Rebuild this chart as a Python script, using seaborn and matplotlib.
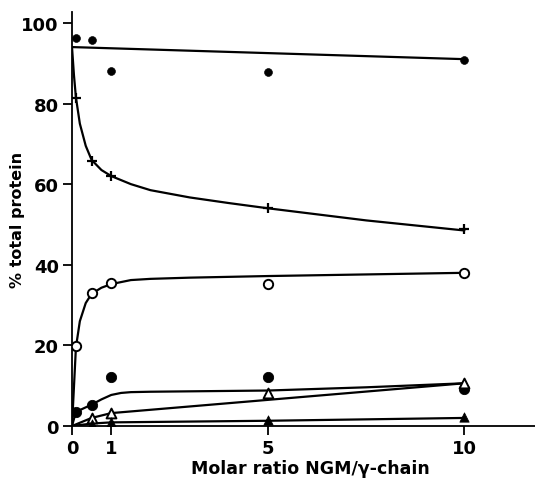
import matplotlib
matplotlib.use("Agg")
import matplotlib.pyplot as plt
import seaborn as sns
import numpy as np

# ---- measured points ----
x_pts = [0.1, 0.5, 1, 5, 10]
top_dots = [96.3, 95.8, 88.1, 87.8, 90.8]
plus_pts = [81.4, 65.8, 62.0, 54.1, 48.9]
open_circ = [19.8, 33.0, 35.5, 35.3, 38.0]
filled_circ = [3.5, 5.2, 12.2, 12.1, 9.2]
x_tri = [0.5, 1, 5, 10]
open_tri = [2.0, 3.2, 8.2, 10.7]
filled_tri = [0.6, 1.0, 1.5, 2.2]

# ---- hand-drawn curves ----
top_line_x = [0, 10]
top_line_y = [94, 91]
plus_curve_x = [0, 0.05, 0.1, 0.2, 0.35, 0.5, 0.75, 1, 1.5, 2, 3, 4, 5, 7.5, 10]
plus_curve_y = [94, 87, 81.5, 75, 69.5, 66, 63.5, 62, 60, 58.5, 56.7, 55.3, 54, 51, 48.5]
oc_curve_x = [0, 0.1, 0.2, 0.35, 0.5, 0.75, 1, 1.5, 2, 3, 5, 7.5, 10]
oc_curve_y = [0, 19.5, 26, 30.5, 32.8, 34.3, 35.2, 36.2, 36.5, 36.8, 37.2, 37.6, 38]
fc_curve_x = [0, 0.1, 0.3, 0.5, 0.75, 1, 1.25, 1.5, 2, 3, 5, 7.5, 10]
fc_curve_y = [0, 3.5, 4.4, 5.3, 6.6, 7.7, 8.2, 8.4, 8.5, 8.6, 8.8, 9.6, 10.6]
ot_line_x = [0, 0.5, 1, 10]
ot_line_y = [0, 2.0, 3.2, 10.6]
ft_line_x = [0, 0.5, 1, 5, 10]
ft_line_y = [0, 0.6, 0.9, 1.3, 2.0]

x_ticks = [0, 1, 5, 10]
y_ticks = [0, 20, 40, 60, 80, 100]

sns.set_style("ticks")
plt.rcParams['font.family'] = ['DejaVu Sans']
plt.rcParams['font.weight'] = 'bold'
plt.rcParams['text.color'] = 'black'
plt.rcParams['axes.labelcolor'] = 'black'
plt.rcParams['xtick.color'] = 'black'
plt.rcParams['ytick.color'] = 'black'

fig = plt.figure(figsize=(5.35, 4.81), dpi=100)
ax = fig.add_axes([72/535, 1-427/481, 1-72/535, (427-13)/481])

lw = 1.6
for cx, cy in [(top_line_x, top_line_y), (plus_curve_x, plus_curve_y),
               (oc_curve_x, oc_curve_y), (fc_curve_x, fc_curve_y),
               (ot_line_x, ot_line_y), (ft_line_x, ft_line_y)]:
    sns.lineplot(x=cx, y=cy, ax=ax, color='black', linewidth=lw,
                 sort=False, estimator=None)

sns.scatterplot(x=x_pts, y=top_dots, ax=ax, marker='o', s=32,
                color='black', edgecolor='black', zorder=5)
sns.scatterplot(x=x_pts, y=plus_pts, ax=ax, marker='+', s=50,
                color='black', linewidth=1.6, zorder=5)
sns.scatterplot(x=x_pts, y=open_circ, ax=ax, marker='o', s=45,
                facecolor='white', edgecolor='black', linewidth=1.4, zorder=5)
sns.scatterplot(x=x_pts, y=filled_circ, ax=ax, marker='o', s=55,
                color='black', edgecolor='black', zorder=5)
sns.scatterplot(x=x_tri, y=open_tri, ax=ax, marker='^', s=50,
                facecolor='white', edgecolor='black', linewidth=1.4, zorder=6)
sns.scatterplot(x=x_tri, y=filled_tri, ax=ax, marker='^', s=45,
                color='black', edgecolor='black', zorder=6)

ax.set_xlim(0, 11.8)
ax.set_ylim(0, 102.7)
ax.set_xticks(x_ticks)
ax.set_yticks(y_ticks)
ax.set_xticklabels([str(t) for t in x_ticks], fontsize=13, fontweight='bold', color='black')
ax.set_yticklabels([str(t) for t in y_ticks], fontsize=13, fontweight='bold', color='black')
ax.tick_params(direction='out', length=6.5, width=1.3, pad=3, color='black')
for side in ['top', 'right']:
    ax.spines[side].set_visible(False)
for side in ['left', 'bottom']:
    ax.spines[side].set_linewidth(1.3)
    ax.spines[side].set_color('black')

ax.set_xlabel('Molar ratio NGM/\u03b3-chain', fontsize=12.5, fontweight='bold', color='black')
ax.set_ylabel('% total protein', fontsize=11.5, fontweight='bold', color='black')
ax.xaxis.set_label_coords((310-72)/(535-72), -(469-427)/(427-13), transform=ax.transAxes)
ax.xaxis.label.set_verticalalignment('center')
ax.yaxis.set_label_coords(-(72-18)/(535-72), 0.5, transform=ax.transAxes)
ax.yaxis.label.set_verticalalignment('center')

fig.savefig('out.png', dpi=100)
